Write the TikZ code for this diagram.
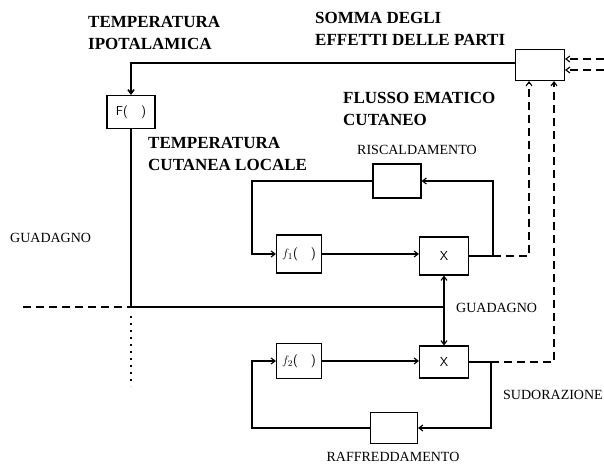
\documentclass[tikz,border=0pt]{standalone}
\usepackage{fontspec}
\setmainfont{Liberation Serif}
\usetikzlibrary{arrows.meta, positioning, calc}

\begin{document}
\begin{tikzpicture}[x=1pt, y=-1pt,
		box/.style={draw, line width=1.1pt, inner sep=0pt},
		link/.style={line width=1.1pt, -{Straight Barb[length=4pt, width=6pt]}},
		wire/.style={line width=1.1pt},
		dashline/.style={line width=1.1pt, dash pattern=on 8pt off 5pt},
		head/.style={font=\fontsize{17}{22}\selectfont\bfseries, align=left, anchor=north west, inner sep=0pt},
		lab/.style={font=\fontsize{14}{16}\selectfont, inner sep=0pt},
		inbox/.style={font=\sffamily\fontsize{13}{13}\selectfont}]
	\useasboundingbox (0,0) rectangle (604,469);
	% blocks
	\node[box, minimum width=49pt, minimum height=31pt] (sum) at (540,65) {};
	\node[box, inbox, minimum width=48pt, minimum height=33pt] (F) at (131,112) {F(\quad)};
	\node[box, minimum width=48pt, minimum height=34pt] (heat) at (397,181) {};
	\node[box, inbox, minimum width=45pt, minimum height=38pt] (fone) at (299,254) {$f_1$(\quad)};
	\node[box, inbox, minimum width=49pt, minimum height=38pt] (mone) at (444,256) {X};
	\node[box, inbox, minimum width=45pt, minimum height=35pt] (ftwo) at (299,361) {$f_2$(\quad)};
	\node[box, inbox, minimum width=49pt, minimum height=32pt] (mtwo) at (444,362) {X};
	\node[box, minimum width=47pt, minimum height=31pt] (cool) at (394,428) {};
	% points
	\coordinate (split) at (444,307);
	\coordinate (gleft) at (23,307);
	\coordinate (up) at (493,256);
	\coordinate (dn) at (491,362);
	\coordinate (sa) at (529,81);
	\coordinate (sb) at (554,81);
	% main loop
	\draw[link, line width=1.6pt] (sum.west |- 0,63) -- (F.north |- 0,63) -- (F.north);
	\draw[wire] (F.south) -- (F.south |- split) -- (split);
	\draw[dashline] (gleft) -- (F.south |- split);
	\draw[wire, dash pattern=on 2pt off 5pt] (131,316) -- (131,386);
	\draw[link] (split) -- (mone.south);
	\draw[link] (split) -- (mtwo.north);
	% upper loop
	\draw[link] (fone.east) -- (fone.east -| mone.west);
	\draw[link] (mone.east) -- (up) -- (up |- heat.east) -- (heat.east);
	\draw[link] (heat.west) -- (252,181) -- (252,254) -- (fone.west);
	\draw[dashline, -{Straight Barb[length=4pt, width=6pt]}] (up) -- (sa |- up) -- (sa);
	% lower loop
	\draw[link] (ftwo.east) -- (ftwo.east -| mtwo.west);
	\draw[wire] (mtwo.east) -- (dn);
	\draw[link] (dn) -- (dn |- cool.east) -- (cool.east);
	\draw[link] (cool.west) -- (252,428) -- (252,361) -- (ftwo.west);
	\draw[dashline, -{Straight Barb[length=4pt, width=6pt]}] (dn) -- (sb |- dn) -- (sb);
	% other parts
	\draw[dashline, -{Straight Barb[length=4pt, width=6pt]}] (604,59) -- (sum.east |- 0,59);
	\draw[dashline, -{Straight Barb[length=4pt, width=6pt]}] (604,70) -- (sum.east |- 0,70);
	% labels
	\node[head] (tipo) at (88,16) {TEMPERATURA\\IPOTALAMICA};
	\node[head] (somma) at (315,12) {SOMMA DEGLI\\EFFETTI DELLE PARTI};
	\node[head] (tcut) at (148,137) {TEMPERATURA\\CUTANEA LOCALE};
	\node[head] (flusso) at (343,92) {FLUSSO EMATICO\\CUTANEO};
	\node[lab] (risc) at (417,150) {RISCALDAMENTO};
	\node[lab, anchor=west] (gone) at (10,238) {GUADAGNO};
	\node[lab, anchor=west] (gtwo) at (456,308) {GUADAGNO};
	\node[lab, anchor=west] (sudo) at (503,395) {SUDORAZIONE};
	\node[lab] (raff) at (393,457) {RAFFREDDAMENTO};
\end{tikzpicture}
\end{document}
